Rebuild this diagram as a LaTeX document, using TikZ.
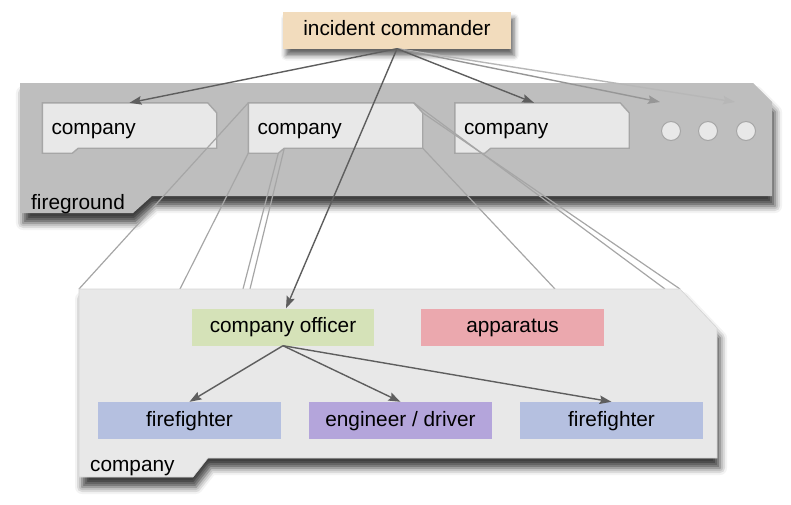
\documentclass[tikz,border=0pt]{standalone}
\usepackage{fontspec}
\setmainfont{Liberation Sans}
\usetikzlibrary{positioning}
\usetikzlibrary{calc}
\usetikzlibrary{arrows.meta}
\usetikzlibrary{shadows.blur}
\definecolor{commanderColor}{HTML}{F2DCBD}
\definecolor{officerColor}{HTML}{D5E2B8}
\definecolor{apparatusColor}{HTML}{EBA8AE}
\definecolor{firefighterColor}{HTML}{B5C0E0}
\definecolor{engineerColor}{HTML}{B4A5DB}
\definecolor{groundColor}{HTML}{BEBEBE}
\definecolor{paleColor}{HTML}{E8E8E8}
\definecolor{edgeColor}{HTML}{A6A6A6}
\definecolor{arrowColor}{HTML}{5E5E5E}
\pgfdeclarelayer{background}
\pgfsetlayers{background,main}
\newcommand{\companyShape}[1]{%
  \draw[companyFrame] (#1.north west) -- ($(#1.north east)+(-9,0)$) -- ($(#1.north east)+(0,10)$)
    -- ($(#1.south east)+(0,-5)$) -- ($(#1.south west)+(36,-5)$) -- ($(#1.south west)+(30,0)$)
    -- (#1.south west) -- cycle;}

\begin{document}
\begin{tikzpicture}[x=1pt,y=-1pt]

            \tikzstyle{role} = [minimum width=183pt, minimum height=37pt, inner sep=0pt, text height=15pt, text depth=4pt, font=\fontsize{20.8}{25}\selectfont];
            \tikzstyle{companyNode} = [minimum height=50pt, text width=156pt, inner xsep=9pt, inner ysep=0pt, align=left, text height=14pt, text depth=2pt, font=\fontsize{20.8}{25}\selectfont];
            \tikzstyle{companyFrame} = [fill=paleColor, draw=edgeColor, line width=1.4pt];
            \tikzstyle{caption} = [anchor=west, inner sep=0pt, font=\fontsize{20.8}{25}\selectfont];
            \tikzstyle{moreDot} = [circle, minimum size=19pt, inner sep=0pt, fill=paleColor, draw=edgeColor, line width=1pt];
            \tikzstyle{order} = [arrowColor, line width=1.4pt, -{Stealth[length=12pt, width=8.5pt, inset=2pt]}];
            \tikzstyle{zoomLine} = [edgeColor, line width=1.2pt];
            \tikzstyle{softShadow} = [blur shadow={shadow xshift=3pt, shadow yshift=-7pt, shadow blur radius=5pt, shadow opacity=60}];
            \tikzstyle{deepShadow} = [blur shadow={shadow xshift=3pt, shadow yshift=-10pt, shadow blur radius=7pt, shadow opacity=75}];

            \useasboundingbox (0,0) rectangle (791,504);

            \node[role, fill=commanderColor, minimum width=228pt, softShadow] (ic) at (397,30) {incident commander};

            \node[caption] (fgLabel) at (31,204) {fireground};
            \node[companyNode] (c1) at (129.5,128) {company};
            \node[companyNode] (c2) at (335.5,128) {company};
            \node[companyNode] (c3) at (542,128) {company};
            \foreach \i/\x in {1/671, 2/708, 3/746}
              \node[moreDot] (d\i) at (\x,131) {};
            \coordinate (more1) at (660,102);
            \coordinate (more2) at (735,102);

            \coordinate (p1) at (79,289);
            \coordinate (p2) at (180,289);
            \coordinate (p3) at (243,289);
            \coordinate (p4) at (250,289);
            \coordinate (p5) at (555,289);
            \coordinate (p6) at (665,289);
            \coordinate (p7) at (680,289);

            \begin{pgfonlayer}{background}
              \fill[groundColor, deepShadow] (20,83) -- (753,83) -- (772,102) -- (772,196) -- (152,196) -- (133,213) -- (20,213) -- cycle;
              \companyShape{c1}
              \companyShape{c2}
              \companyShape{c3}
              \draw[zoomLine] (c2.north west) -- (p1);
              \draw[zoomLine] (c2.south west) -- (p2);
              \draw[zoomLine] ($(c2.south west)+(30,0)$) -- (p3);
              \draw[zoomLine] ($(c2.south west)+(36,-5)$) -- (p4);
              \draw[zoomLine] ($(c2.south east)+(0,-5)$) -- (p5);
              \draw[zoomLine] ($(c2.north east)+(-9,0)$) -- (p6);
              \draw[zoomLine] ($(c2.north east)+(0,10)$) -- (p7);
              \draw[fill=paleColor, draw=paleColor!92!black, line width=0.6pt, deepShadow]
                (p1) -- (p7) -- (717,328) -- (717,458) -- (208,458) -- (193,477) -- (79,477) -- cycle;
            \end{pgfonlayer}

            \node[role, fill=officerColor, minimum width=182pt] (co) at (283,327) {company officer};
            \node[role, fill=apparatusColor] (app) at (512.5,327) {apparatus};
            \node[role, fill=firefighterColor] (ff1) at (189.5,420.5) {firefighter};
            \node[role, fill=engineerColor] (eng) at (400.5,420.5) {engineer / driver};
            \node[role, fill=firefighterColor] (ff2) at (611.5,420.5) {firefighter};
            \node[caption] (panelLabel) at (90,468.5) {company};

            \draw[order, arrowColor!45!white] (ic.south) -- (more2);
            \draw[order, arrowColor!65!white] (ic.south) -- (more1);
            \draw[order] (ic.south) -- (c1.north);
            \draw[order] (ic.south) -- ([xshift=-8pt]c3.north);
            \draw[order] (ic.south) -- ([xshift=3pt]co.north);
            \draw[order] (co.south) -- (ff1.north);
            \draw[order] (co.south) -- (eng.north);
            \draw[order] (co.south) -- (ff2.north);
          \end{tikzpicture}
\end{document}
